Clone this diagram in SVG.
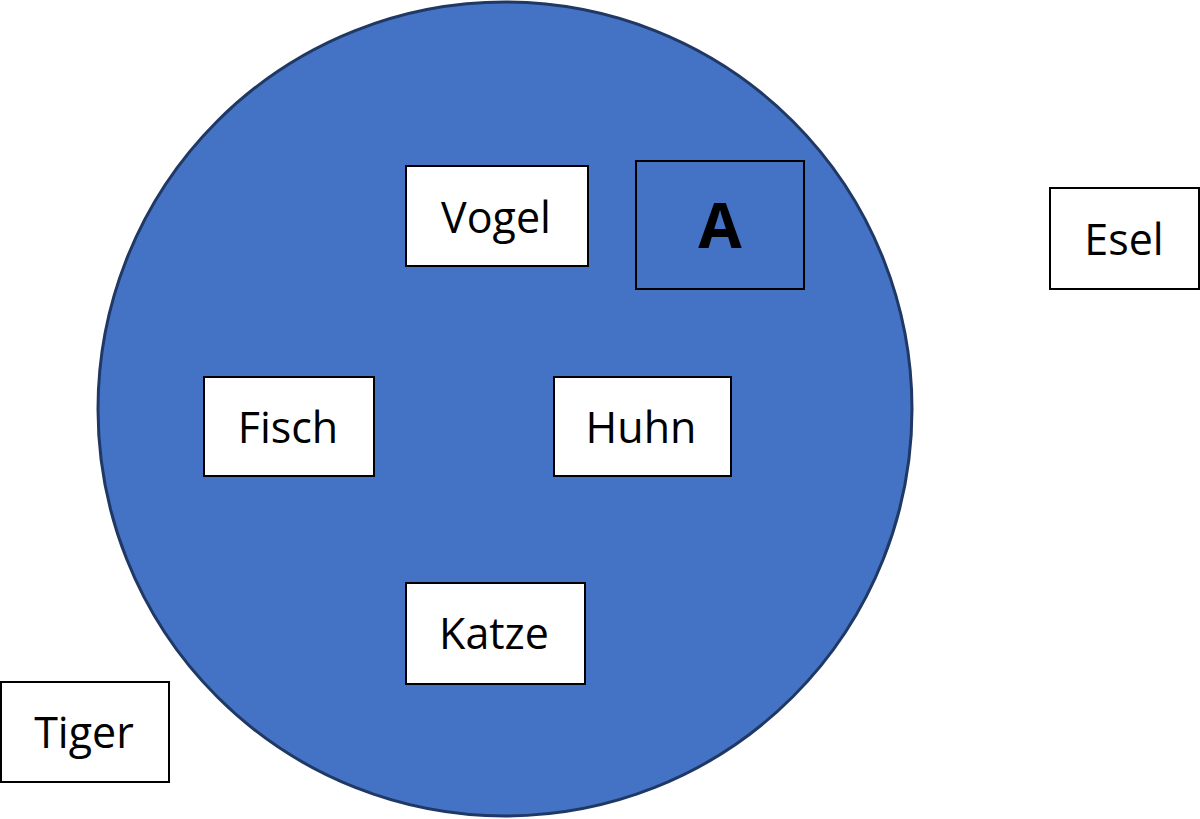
<svg xmlns="http://www.w3.org/2000/svg" width="1200" height="819" viewBox="0 0 1200 819">
<style>
.box{fill:#ffffff;stroke:#000000;stroke-width:2}
.lbl{font-family:"Open Sans","Liberation Sans",sans-serif;font-size:43px;fill:#000000;text-anchor:middle}
</style>
<rect width="1200" height="819" fill="#ffffff"/>
<g id="circle">
<circle cx="505" cy="409" r="407" fill="#4472C4" stroke="#1F3864" stroke-width="3"/>
</g>
<g id="connectors"></g>
<g id="vogel"><rect class="box" x="406" y="166" width="182" height="100"/><text class="lbl" x="496" y="233">Vogel</text></g>
<g id="a"><rect x="636" y="161" width="168" height="128" fill="#4472C4" stroke="#000000" stroke-width="2"/><text x="720" y="248" font-family="'Open Sans','Liberation Sans',sans-serif" font-size="63" font-weight="bold" text-anchor="middle" fill="#000000">A</text></g>
<g id="esel"><rect class="box" x="1050" y="188" width="149" height="101"/><text class="lbl" x="1124" y="255">Esel</text></g>
<g id="fisch"><rect class="box" x="204" y="377" width="170" height="99"/><text class="lbl" x="288" y="443">Fisch</text></g>
<g id="huhn"><rect class="box" x="554" y="377" width="177" height="99"/><text class="lbl" x="641" y="443">Huhn</text></g>
<g id="katze"><rect class="box" x="406" y="583" width="179" height="101"/><text class="lbl" x="494" y="649">Katze</text></g>
<g id="tiger"><rect class="box" x="1" y="682" width="168" height="100"/><text class="lbl" x="84" y="748">Tiger</text></g>
</svg>
